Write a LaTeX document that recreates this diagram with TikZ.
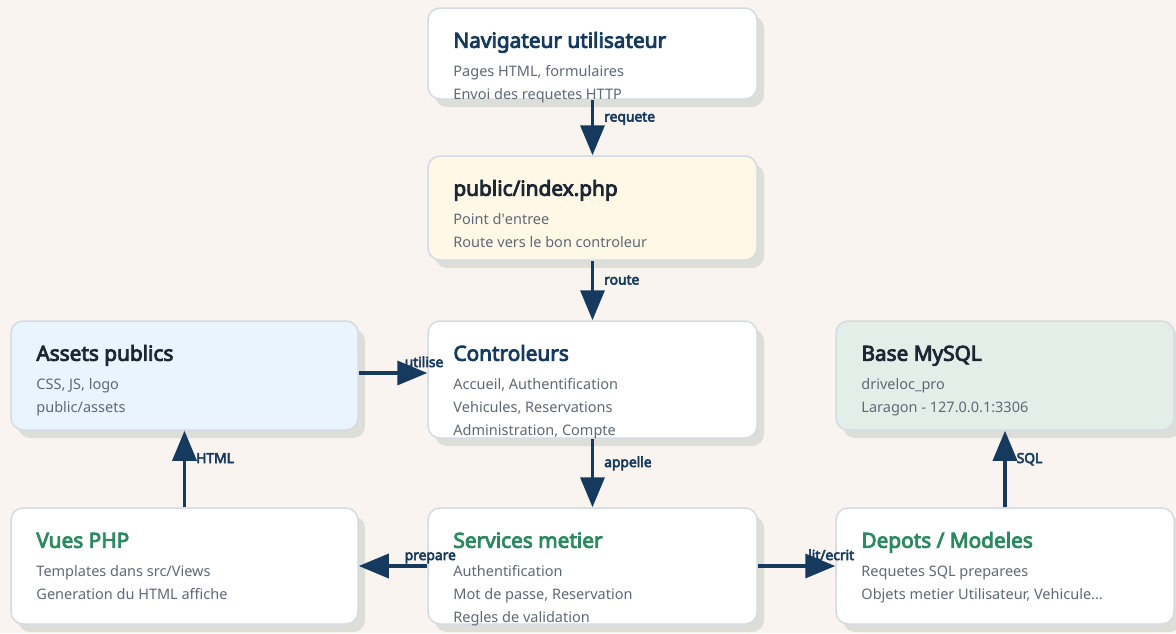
\documentclass[tikz,border=0pt]{standalone}
\usepackage{fontspec}
\setmainfont{Noto Sans}[AutoFakeBold=4]
\usepackage{tikz}
\usetikzlibrary{shapes.geometric, arrows.meta, shadows}

\definecolor{bg}{HTML}{F9F4F0}
\definecolor{edge}{HTML}{D4DBE2}
\definecolor{shade}{HTML}{DEDED9}
\definecolor{navy}{HTML}{163A5E}
\definecolor{ink}{HTML}{1C2733}
\definecolor{leaf}{HTML}{2B8A5E}
\definecolor{grey}{HTML}{5E6975}
\definecolor{paleY}{HTML}{FFF8E7}
\definecolor{paleB}{HTML}{EAF4FE}
\definecolor{paleG}{HTML}{E4EEE9}

% lignes du texte d'une boite, la ligne de base est celle de la premiere
\newcommand{\lignes}[1]{\begin{tabular}[t]{@{}l@{}}#1\end{tabular}}

\tikzset{
  box/.style={draw=edge,line width=1.5pt,rounded corners=12pt,shape=rectangle,inner sep=0pt,
    drop shadow={shadow xshift=7pt,shadow yshift=-8pt,fill=shade,opacity=1}},
  ttl/.style={anchor=base west,inner sep=0pt,font=\fontsize{20.8}{24}\selectfont\bfseries},
  txt/.style={anchor=base west,inner sep=0pt,text=grey,font=\fontsize{14.5}{23}\selectfont},
  arr/.style={draw=navy,line width=3.5pt,-{Triangle[length=30pt,width=24pt]}},
  lbl/.style={pos=0.5,anchor=base west,xshift=10pt,yshift=6pt,inner sep=0pt,text=navy,
    font=\fontsize{13.8}{15}\selectfont\bfseries}
}

\begin{document}
\begin{tikzpicture}[x=1pt,y=-1pt]
            \useasboundingbox[fill=bg](0,0)rectangle(1176,633);

            % colonne du milieu
            \node[box,fill=white,minimum width=329,minimum height=91](n1)at(592.5,53.5){};
            \node[box,fill=paleY,minimum width=329,minimum height=104](n2)at(592.5,208){};
            \node[box,fill=white,minimum width=329,minimum height=117](n3)at(592.5,379.5){};
            \node[box,fill=white,minimum width=329,minimum height=116](n4)at(592.5,566){};
            % gauche
            \node[box,fill=paleB,minimum width=347,minimum height=109](n5)at(184.5,375.5){};
            \node[box,fill=white,minimum width=347,minimum height=116](n6)at(184.5,566){};
            % droite
            \node[box,fill=paleG,minimum width=338,minimum height=109](n7)at(1005,375.5){};
            \node[box,fill=white,minimum width=338,minimum height=116](n8)at(1005,566){};

            \node[ttl,text=navy](t1)at([shift={(26,40.5)}]n1.north west){Navigateur utilisateur};
            \node[txt](b1)at([shift={(26,69.5)}]n1.north west){\lignes{Pages HTML, formulaires\\Envoi des requetes HTTP}};
            \node[ttl,text=ink](t2)at([shift={(26,40.5)}]n2.north west){public/index.php};
            \node[txt](b2)at([shift={(26,69.5)}]n2.north west){\lignes{Point d\textquotesingle entree\\Route vers le bon controleur}};
            \node[ttl,text=navy](t3)at([shift={(26,40.5)}]n3.north west){Controleurs};
            \node[txt](b3)at([shift={(26,69.5)}]n3.north west){\lignes{Accueil, Authentification\\Vehicules, Reservations\\Administration, Compte}};
            \node[ttl,text=leaf](t4)at([shift={(26,40.5)}]n4.north west){Services metier};
            \node[txt](b4)at([shift={(26,69.5)}]n4.north west){\lignes{Authentification\\Mot de passe, Reservation\\Regles de validation}};
            \node[ttl,text=ink](t5)at([shift={(26,40.5)}]n5.north west){Assets publics};
            \node[txt](b5)at([shift={(26,69.5)}]n5.north west){\lignes{CSS, JS, logo\\public/assets}};
            \node[ttl,text=leaf](t6)at([shift={(26,40.5)}]n6.north west){Vues PHP};
            \node[txt](b6)at([shift={(26,69.5)}]n6.north west){\lignes{Templates dans src/Views\\Generation du HTML affiche}};
            \node[ttl,text=ink](t7)at([shift={(26,40.5)}]n7.north west){Base MySQL};
            \node[txt](b7)at([shift={(26,69.5)}]n7.north west){\lignes{driveloc\_pro\\Laragon - 127.0.0.1:3306}};
            \node[ttl,text=leaf](t8)at([shift={(26,40.5)}]n8.north west){Depots / Modeles};
            \node[txt](b8)at([shift={(26,69.5)}]n8.north west){\lignes{Requetes SQL preparees\\Objets metier Utilisateur, Vehicule...}};

            \draw[arr](n1)to node[lbl]{requete}(n2);
            \draw[arr](n2)to node[lbl]{route}(n3);
            \draw[arr]([yshift=2.5pt]n5.east)to node[lbl]{utilise}([yshift=2.5pt]n5.east -| n3.west);
            \draw[arr](n3)to node[lbl]{appelle}(n4);
            \draw[arr](n4)to node[lbl]{prepare}(n6);
            \draw[arr](n6)to node[lbl]{HTML}(n5);
            \draw[arr](n4)to node[lbl]{lit/ecrit}(n8);
            \draw[arr](n8)to node[lbl]{SQL}(n7);
\end{tikzpicture}
\end{document}
